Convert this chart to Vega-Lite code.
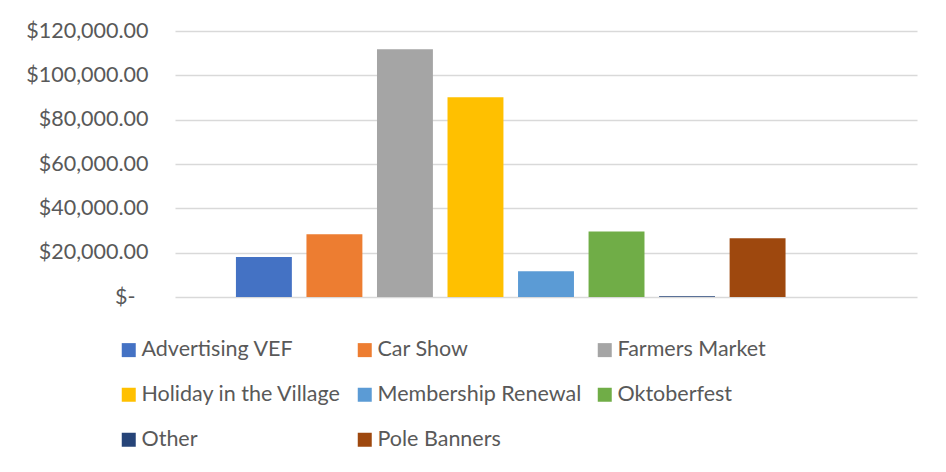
{
  "$schema": "https://vega.github.io/schema/vega-lite/v6.json",
  "width": 742,
  "height": 266,
  "autosize": "none",
  "padding": {"left": 175, "top": 31, "right": 29, "bottom": 175},
  "background": "white",
  "data": {
    "values": [
      {"series": "Advertising VEF", "amount": 18000},
      {"series": "Car Show", "amount": 28300},
      {"series": "Farmers Market", "amount": 111800},
      {"series": "Holiday in the Village", "amount": 90100},
      {"series": "Membership Renewal", "amount": 11600},
      {"series": "Oktoberfest", "amount": 29600},
      {"series": "Other", "amount": 300},
      {"series": "Pole Banners", "amount": 26500}
    ]
  },
  "mark": {"type": "bar"},
  "encoding": {
    "x": {
      "field": "series",
      "type": "nominal",
      "sort": null,
      "scale": {
        "domain": ["Advertising VEF", "Car Show", "Farmers Market", "Holiday in the Village", "Membership Renewal", "Oktoberfest", "Other", "Pole Banners", "(blank)"],
        "paddingInner": 0.207,
        "paddingOuter": 0.864
      },
      "axis": null
    },
    "y": {
      "field": "amount",
      "type": "quantitative",
      "scale": {"domain": [0, 120000], "nice": false},
      "axis": {
        "values": [0, 20000, 40000, 60000, 80000, 100000, 120000],
        "title": null,
        "domain": false,
        "ticks": false,
        "labelPadding": {"condition": {"test": "datum.value == 0", "value": 40}, "value": 27},
        "labelFont": "Lato",
        "labelFontSize": 21.5,
        "labelColor": "#595959",
        "gridColor": "#d9d9d9",
        "gridWidth": 1.5,
        "labelExpr": "datum.value == 0 ? '$-' : '$' + format(datum.value, ',.2f')"
      }
    },
    "color": {
      "field": "series",
      "type": "nominal",
      "sort": null,
      "scale": {
        "domain": ["Advertising VEF", "Car Show", "Farmers Market", "Holiday in the Village", "Membership Renewal", "Oktoberfest", "Other", "Pole Banners"],
        "range": ["#4472C4", "#ED7D31", "#A5A5A5", "#FFC000", "#5B9BD5", "#70AD47", "#264478", "#9E480E"]
      },
      "legend": {
        "title": null,
        "orient": "none",
        "legendX": -57,
        "legendY": 308,
        "direction": "horizontal",
        "columns": 3,
        "symbolType": "square",
        "symbolSize": 196,
        "symbolStrokeWidth": 0,
        "labelFont": "Lato",
        "labelFontSize": 21.5,
        "labelColor": "#595959",
        "labelOffset": 2,
        "rowPadding": 22,
        "columnPadding": 12,
        "labelLimit": 400
      }
    }
  },
  "config": {
    "view": {"stroke": null}
  }
}
